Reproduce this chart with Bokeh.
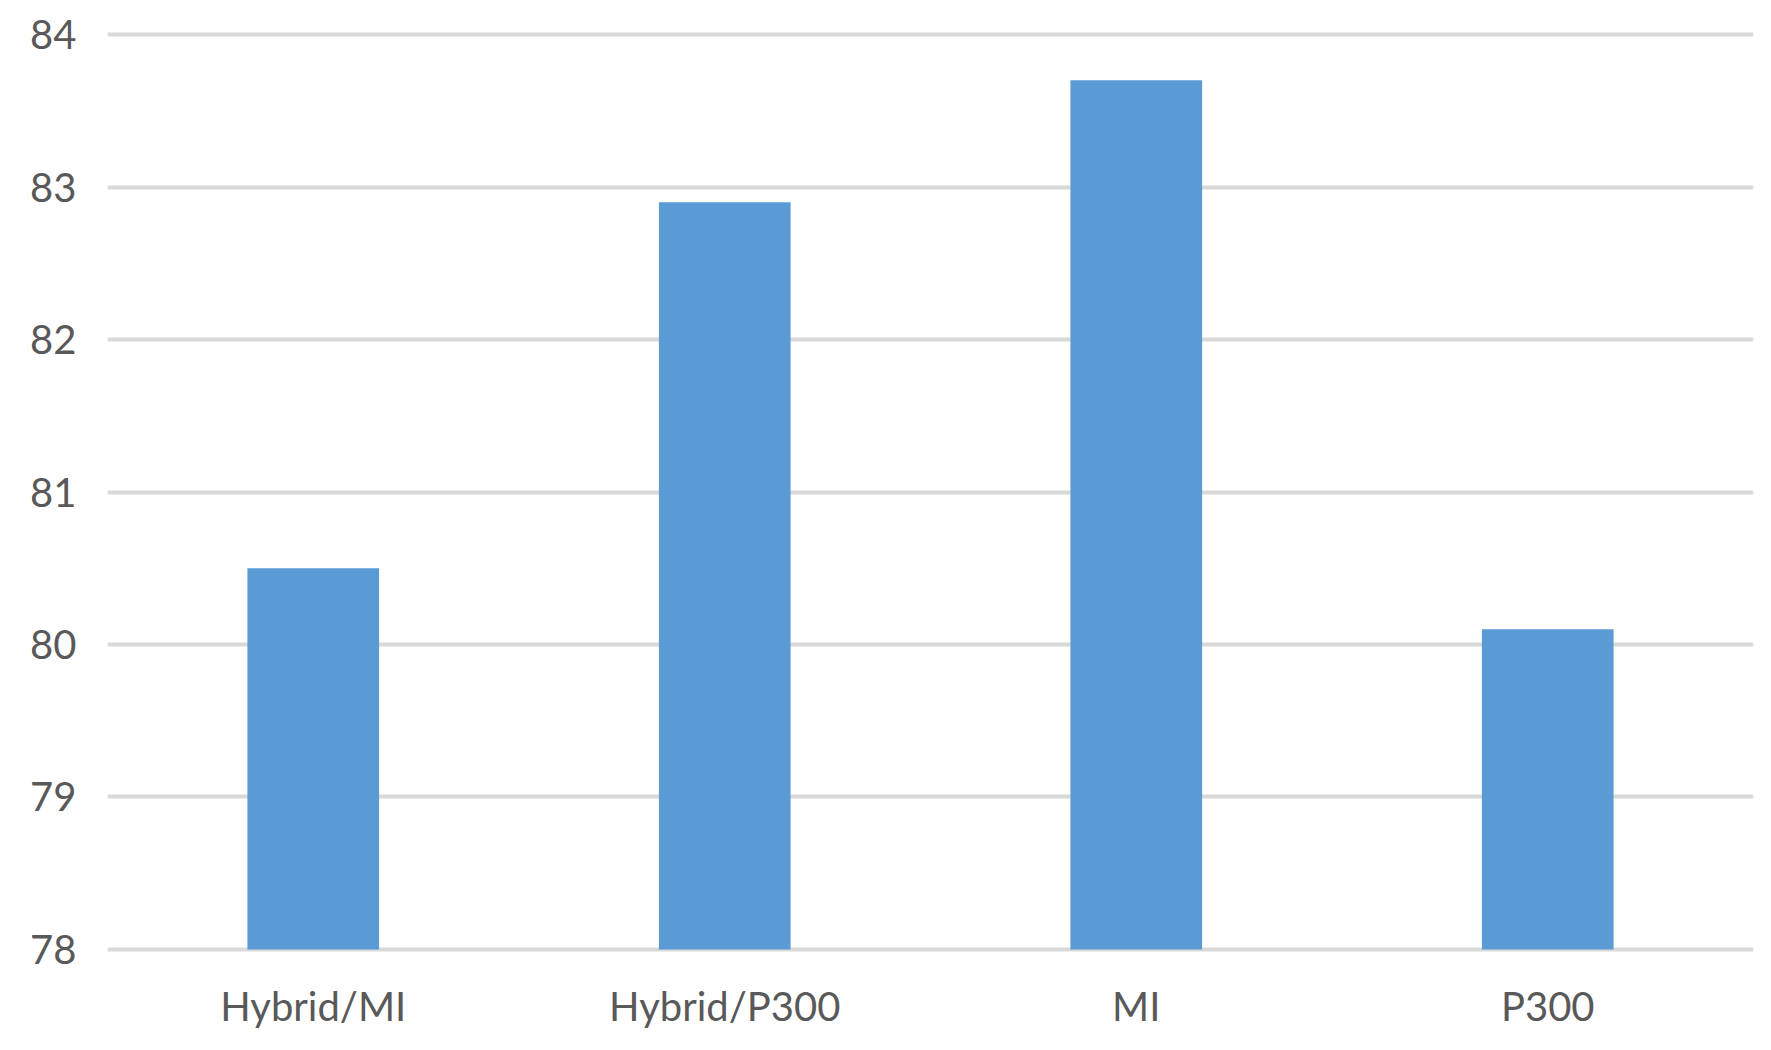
from bokeh.plotting import figure
from bokeh.models import ColumnDataSource, FactorRange, Range1d, FixedTicker
from bokeh.embed import file_html
from bokeh.resources import INLINE

categories = ["Hybrid/MI", "Hybrid/P300", "MI", "P300"]
values = [80.5, 82.9, 83.7, 80.1]
y_ticks = [78, 79, 80, 81, 82, 83, 84]

src = ColumnDataSource(data=dict(cat=categories, val=values, base=[78] * len(values)))

p = figure(
    x_range=FactorRange(*categories, range_padding=0),
    y_range=Range1d(77.98, 84.02),
    width=1763, height=1042,
    output_backend="svg", toolbar_location=None,
    min_border_left=107, min_border_right=10, min_border_top=31, min_border_bottom=90,
)
p.vbar(x="cat", top="val", bottom="base", width=0.32, source=src,
       fill_color="#5b9bd5", line_color=None)

FONT = "Lato"
TXT = "#595959"
p.outline_line_color = None
p.background_fill_color = "white"
p.border_fill_color = "white"

p.xgrid.grid_line_color = None
p.ygrid.grid_line_color = "#d9d9d9"
p.ygrid.grid_line_width = 4
p.yaxis.ticker = FixedTicker(ticks=y_ticks)

for ax in (p.xaxis[0], p.yaxis[0]):
    ax.axis_line_color = None
    ax.major_tick_line_color = None
    ax.minor_tick_line_color = None
    ax.major_tick_out = 0
    ax.major_tick_in = 0
    ax.major_label_text_font = FONT
    ax.major_label_text_font_size = "40px"
    ax.major_label_text_color = TXT

p.yaxis.major_label_standoff = 31
p.xaxis.major_label_standoff = 29

open("out.html", "w").write(file_html(p, INLINE))
